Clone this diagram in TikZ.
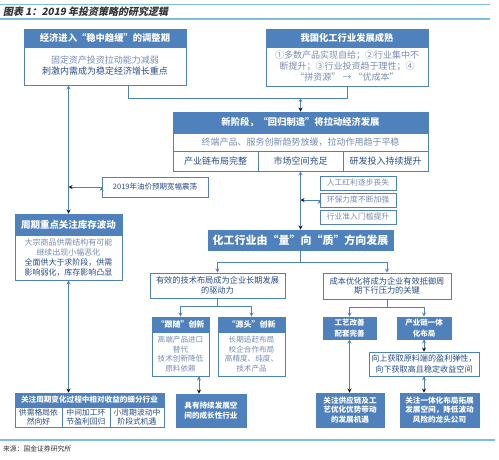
\documentclass[tikz,border=0pt]{standalone}
\usepackage{fontspec}
\setmainfont{Noto Sans CJK SC}
\newfontfamily\ttlfont[FakeSlant=0.2]{Noto Sans CJK SC}
\usetikzlibrary{arrows}
\definecolor{cblue}{RGB}{79,129,189}
\definecolor{clight}{RGB}{120,140,178}
\definecolor{cdark}{RGB}{40,75,135}
\definecolor{crule}{RGB}{125,190,225}
\newcommand\fsz[2]{\fontsize{#1}{#2}\selectfont}

\begin{document}
\begin{tikzpicture}[x=1pt,y=-1pt,
    hd/.style={draw=cblue,fill=cblue,text=white,font=\bfseries\fsz{9.3}{11},inner sep=0pt,align=center,line width=0.9pt},
    bd/.style={draw=cblue,fill=white,text=cdark,inner sep=0pt,align=center,line width=0.9pt},
    lk/.style={draw=cblue,line width=0.8pt,>=stealth}]
    \useasboundingbox (0,0) rectangle (499,459);

    \draw[crule,line width=0.6pt] (0,4) -- (490,4);
    \draw[crule,line width=1.3pt] (0,19) -- (490,19);
    \draw[crule,line width=2pt] (0,440) -- (495,440);
    \node[anchor=west,inner sep=0pt,font=\ttlfont\bfseries\fsz{10}{12},text=black!80] (title) at (3,12) {图表 1：2019 年投资策略的研究逻辑};
    \node[anchor=west,inner sep=0pt,font=\fsz{6.8}{8},text=black!80] (src) at (3,449) {来源：国金证券研究所};

    \node[hd,minimum width=162pt,minimum height=18pt] (Ahd) at (105,38) {经济进入“稳中趋缓”的调整期};
    \node[bd,minimum width=162pt,minimum height=38pt,font=\fsz{9}{11}] (Abd) at (105,66) {\textcolor{clight}{固定资产投资拉动能力减弱}\\\textcolor{cdark}{刺激内需成为稳定经济增长重点}};
    \node[hd,minimum width=162pt,minimum height=18pt] (Bhd) at (347,38) {我国化工行业发展成熟};
    \node[bd,minimum width=162pt,minimum height=39pt,font=\fsz{9}{11},text=clight] (Bbd) at (347,66.5) {①多数产品实现自给；②行业集中不\\断提升；③行业投资趋于理性；④\\“拼资源” → “优成本”};

    \node[hd,minimum width=255pt,minimum height=21pt] (Chd) at (300.5,122.5) {新阶段，“回归制造”将拉动经济发展};
    \node[bd,minimum width=255pt,minimum height=18pt,font=\fsz{9}{11},text=clight] (Cbd) at (300.5,142) {终端产品、服务创新趋势放缓，拉动作用趋于平稳};
    \node[bd,minimum width=85pt,minimum height=20pt,font=\fsz{9}{11}] (C1) at (215.5,161) {产业链布局完整};
    \node[bd,minimum width=85pt,minimum height=20pt,font=\fsz{9}{11}] (C2) at (300.5,161) {市场空间充足};
    \node[bd,minimum width=85pt,minimum height=20pt,font=\fsz{9}{11}] (C3) at (385.5,161) {研发投入持续提升};

    \node[bd,minimum width=106pt,minimum height=20pt,font=\fsz{7.5}{9}] (oil) at (155,187) {2019年油价预期宽幅震荡};
    \node[bd,minimum width=76pt,minimum height=14pt,font=\fsz{7.8}{9},text=clight] (R1) at (358,183) {人工红利逐步丧失};
    \node[bd,minimum width=76pt,minimum height=14pt,font=\fsz{7.8}{9},text=clight] (R2) at (358,200) {环保力度不断加强};
    \node[bd,minimum width=76pt,minimum height=14pt,font=\fsz{7.8}{9},text=clight] (R3) at (358,217) {行业准入门槛提升};

    \node[hd,minimum width=107pt,minimum height=21pt,font=\bfseries\fsz{9.5}{11}] (Dhd) at (68.5,224.5) {周期重点关注库存波动};
    \node[bd,minimum width=107pt,minimum height=45pt,font=\fsz{8}{10}] (Dbd) at (68.5,257.5) {\textcolor{clight}{大宗商品供需结构有可能}\\\textcolor{clight}{继续出现小幅恶化}\\全面供大于求阶段，供需\\影响弱化，库存影响凸显};

    \node[hd,minimum width=185pt,minimum height=20pt,font=\bfseries\fsz{11}{13}] (F) at (300.5,240) {化工行业由“量”向“质”方向发展};
    \node[bd,minimum width=135pt,minimum height=25pt,font=\fsz{8.2}{9.5}] (G) at (217.5,285.5) {有效的技术布局成为企业长期发展\\的驱动力};
    \node[bd,minimum width=128pt,minimum height=26pt,font=\fsz{8.2}{9.5}] (H) at (387,286) {成本优化将成为企业有效抵御周\\期下行压力的关键};

    \node[hd,minimum width=57pt,minimum height=15pt,font=\bfseries\fsz{8}{9}] (Ihd) at (180.5,324.5) {“跟随”创新};
    \node[bd,minimum width=57pt,minimum height=44pt,font=\fsz{7.6}{9.7},text=clight] (Ibd) at (180.5,354) {高端产品进口\\替代\\技术创新降低\\原料依赖};
    \node[hd,minimum width=67pt,minimum height=15pt,font=\bfseries\fsz{8}{9}] (Jhd) at (251.5,324.5) {“源头”创新};
    \node[bd,minimum width=67pt,minimum height=44pt,font=\fsz{7.6}{9.7},text=clight] (Jbd) at (251.5,354) {长期追赶布局\\校企合作布局\\高精度、纯度、\\技术产品};
    \node[hd,minimum width=70pt,minimum height=33pt,font=\bfseries\fsz{7.6}{9.5}] (K) at (211,410.5) {具有持续发展空\\间的成长性行业};

    \node[hd,minimum width=53pt,minimum height=22pt,font=\bfseries\fsz{7.5}{10.5}] (L) at (349.5,328) {工艺改善\\配套完善};
    \node[hd,minimum width=54pt,minimum height=22pt,font=\bfseries\fsz{7.5}{10.5}] (M) at (424,328) {产业链一体\\化布局};
    \node[bd,minimum width=110pt,minimum height=24pt,font=\fsz{8.1}{10.5}] (O) at (424,364) {向上获取原料端的盈利弹性，\\向下获取高且稳定收益空间};
    \node[hd,minimum width=68pt,minimum height=34pt,font=\bfseries\fsz{7.6}{9.2}] (N) at (350,410) {关注供应链及工\\艺优化优势带动\\的发展机遇};
    \node[hd,minimum width=79pt,minimum height=34pt,font=\bfseries\fsz{7.6}{9.2}] (P) at (439.5,410) {关注一体化布局拓展\\发展空间，降低波动\\风险的龙头公司};

    \node[hd,minimum width=149pt,minimum height=14pt,font=\bfseries\fsz{7.6}{9}] (Ehd) at (89.5,400) {关注周期变化过程中相对收益的细分行业};
    \node[bd,minimum width=47pt,minimum height=20pt,font=\fsz{7.8}{9}] (E1) at (38.5,417) {供需格局依\\然向好};
    \node[bd,minimum width=48pt,minimum height=20pt,font=\fsz{7.8}{9}] (E2) at (86,417) {中间加工环\\节盈利回归};
    \node[bd,minimum width=54pt,minimum height=20pt,font=\fsz{7.8}{9}] (E3) at (137,417) {小周期波动中\\阶段式机遇};

    \coordinate (ja) at (128,98);
    \coordinate (jf) at (300,262);
    \coordinate (jg) at (217,306);
    \coordinate (jh) at (387,307);

    \path [lk,->] (Abd.south -| Dhd.north) edge (Dhd.north);
    \draw [lk] (Abd.south -| ja) -- (ja) -- (Bbd.south |- ja) -- (Bbd.south);
    \path [lk,->] (Chd.north |- ja) edge (Chd.north);
    \path [lk,->] (oil.west) edge (oil.west -| Dhd.north);
    \path [lk,->] (C2.south) edge (F.north);
    \path [lk,->] (R2.west) edge (R2.west -| F.north);
    \path [lk,->] (Dbd.south) edge (Dbd.south |- Ehd.north);

    \draw [lk] (F.south) -- (F.south |- jf);
    \draw [lk,->] (F.south |- jf) -| (G.north);
    \draw [lk,->] (F.south |- jf) -| (H.north);
    \draw [lk] (G.south) -- (G.south |- jg);
    \draw [lk,->] (G.south |- jg) -| (Ihd.north);
    \draw [lk,->] (G.south |- jg) -| (Jhd.north);
    \draw [lk] (H.south) -- (H.south |- jh);
    \draw [lk,->] (H.south |- jh) -| (L.north);
    \draw [lk,->] (H.south |- jh) -| (M.north);

    \path [lk,->] ([xshift=18.5pt]Ibd.south) edge ([xshift=18.5pt]Ibd.south |- K.north);
    \path [lk,->] (L.south) edge (L.south |- N.north);
    \path [lk,->] (M.south) edge (O.north);
    \path [lk,->] (O.south) edge (O.south |- P.north);
\end{tikzpicture}
\end{document}
